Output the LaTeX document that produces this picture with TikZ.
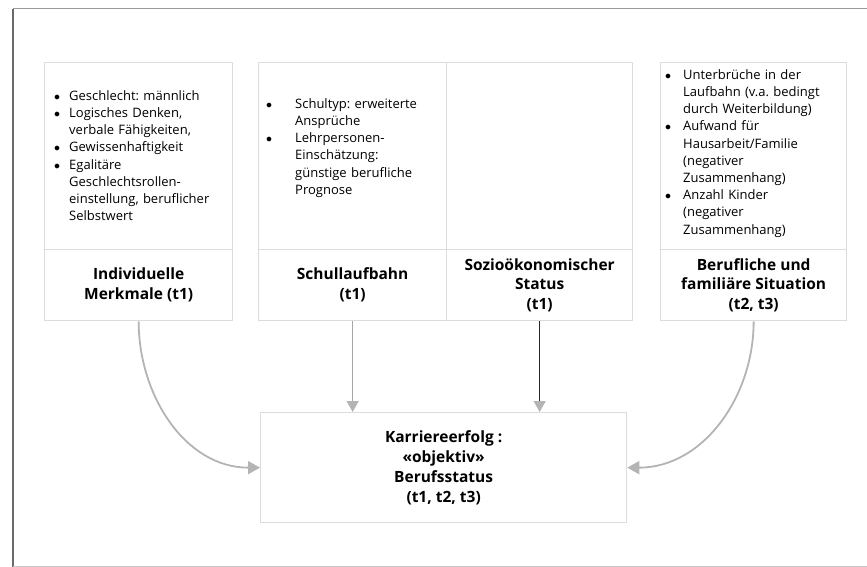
\documentclass[tikz,border=0pt]{standalone}
\usepackage{fontspec}
\setmainfont{Open Sans}
\usetikzlibrary{arrows.meta}

\definecolor{boxline}{HTML}{DCDCDC}
\definecolor{arrowgray}{HTML}{B4B4B4}
\definecolor{framegray}{HTML}{6A6A6A}

\newcommand{\punkt}[2]{\par\hangindent=#1\hangafter=1\noindent\makebox[#1][l]{$\bullet$}#2\par}

\begin{document}
\begin{tikzpicture}[x=1pt, y=-1pt,
    feld/.style={draw=boxline, line width=1.3pt, inner sep=0pt, anchor=north west},
    liste/.style={anchor=north west, inner sep=0pt, text width=#1, align=left,
      font=\fontsize{13}{17.2}\selectfont\frenchspacing},
    titel/.style={align=center, inner sep=0pt, font=\fontsize{15.5}{19.8}\selectfont\bfseries},
    pfeil/.style={arrowgray, line width=1.8pt, -{Triangle[length=12pt, width=13pt]}}]
    \useasboundingbox (0,0) rectangle (867,567);

    \draw[gray!80, line width=1pt] (13,9) -- (867,9);
    \draw[framegray, line width=1.5pt] (13,9) -- (13,567);
    \draw[gray!45, line width=1pt] (13,566) -- (867,566);

    \node[feld, minimum width=188, minimum height=187] (indoben) at (44,62) {};
    \node[feld, minimum width=188, minimum height=71] (indunten) at (44,249) {};
    \node[feld, minimum width=188, minimum height=187] (schuloben) at (258,62) {};
    \node[feld, minimum width=186, minimum height=187] (soziooben) at (446,62) {};
    \node[feld, minimum width=188, minimum height=71] (schulunten) at (258,249) {};
    \node[feld, minimum width=186, minimum height=71] (soziounten) at (446,249) {};
    \node[feld, minimum width=186, minimum height=187] (berufoben) at (660,62) {};
    \node[feld, minimum width=186, minimum height=71] (berufunten) at (660,249) {};
    \node[feld, minimum width=366, minimum height=110] (karriere) at (260,412) {};

    \node[liste=175pt] (indliste) at (54,83) {%
      \punkt{15pt}{Geschlecht: männlich}%
      \punkt{15pt}{Logisches Denken,\newline verbale Fähigkeiten,}%
      \punkt{15pt}{Gewissenhaftigkeit}%
      \punkt{15pt}{Egalitäre\newline Geschlechtsrollen-\newline einstellung, beruflicher\newline Selbstwert}};
    \node[liste=180pt] (schulliste) at (266,91) {%
      \punkt{29pt}{Schultyp: erweiterte\newline Ansprüche}%
      \punkt{29pt}{Lehrpersonen-\newline Einschätzung:\newline günstige berufliche\newline Prognose}};
    \node[liste=180pt] (berufliste) at (665,62) {%
      \punkt{18pt}{Unterbrüche in der\newline Laufbahn (v.a. bedingt\newline durch Weiterbildung)}%
      \punkt{18pt}{Aufwand für\newline Hausarbeit/Familie\newline (negativer\newline Zusammenhang)}%
      \punkt{18pt}{Anzahl Kinder\newline (negativer\newline Zusammenhang)}};

    \node[titel] (indtitel) at (indunten.center) {Individuelle\\Merkmale (t1)};
    \node[titel] (schultitel) at (schulunten.center) {Schullaufbahn\\(t1)};
    \node[titel] (soziotitel) at (soziounten.center) {Sozioökonomischer\\Status\\(t1)};
    \node[titel] (beruftitel) at (berufunten.center) {Berufliche und\\familiäre Situation\\(t2, t3)};
    \node[titel, font=\fontsize{15.5}{20}\selectfont\bfseries] (karrieretitel) at (karriere.center)
      {Karriereerfolg :\\«objektiv»\\Berufsstatus\\(t1, t2, t3)};

    \draw[pfeil] (indunten.south) to[out=-90, in=180] (karriere.west);
    \draw[pfeil] (berufunten.south) to[out=-90, in=0] (karriere.east);
    \draw[gray!70, line width=1.2pt, -{Triangle[length=11pt, width=12pt, color=arrowgray]}]
      (schulunten.south) -- (schulunten.south |- karriere.north);
    \draw[black!85, line width=1.4pt, -{Triangle[length=11pt, width=12pt, color=arrowgray]}]
      (soziounten.south) -- (soziounten.south |- karriere.north);
\end{tikzpicture}
\end{document}
